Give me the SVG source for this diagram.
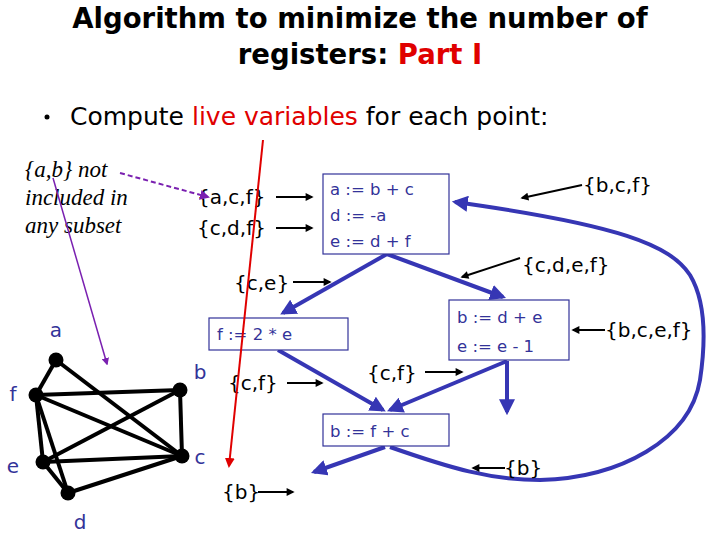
<svg xmlns="http://www.w3.org/2000/svg" width="720" height="540" viewBox="0 0 720 540">
<defs>
<style>
.title{font-family:"DejaVu Sans",sans-serif;font-size:27.5px;font-weight:bold;fill:#000}
.red{fill:#e00000}
.bul{font-family:"DejaVu Sans",sans-serif;font-size:25px;fill:#000}
.ital{font-family:"Liberation Serif",serif;font-style:italic;font-size:23px;fill:#000}
.set{font-family:"DejaVu Sans",sans-serif;font-size:20px;fill:#000}
.code{font-family:"DejaVu Sans",sans-serif;font-size:16.5px;fill:#333399}
.lbl{font-family:"DejaVu Sans",sans-serif;font-size:20px;fill:#333399}
.box{fill:#fff;stroke:#333399;stroke-width:1.2}
.blue{fill:none;stroke:#3636b4;stroke-width:4;marker-end:url(#bh)}
.blk{fill:none;stroke:#000;stroke-width:2;marker-end:url(#kh)}
.edge{stroke:#000;stroke-width:4}
.node{fill:#000}
</style>
<marker id="bh" viewBox="0 0 10 10" refX="8" refY="5" markerWidth="4" markerHeight="4" orient="auto" markerUnits="strokeWidth"><path d="M0,0L10,5L0,10z" fill="#3636b4"/></marker>
<marker id="kh" viewBox="0 0 10 10" refX="8" refY="5" markerWidth="5" markerHeight="4" orient="auto" markerUnits="strokeWidth"><path d="M0,0L10,5L0,10z" fill="#000"/></marker>
<marker id="rh" viewBox="0 0 10 10" refX="8" refY="5" markerWidth="5" markerHeight="5" orient="auto" markerUnits="strokeWidth"><path d="M0,0L10,5L0,10z" fill="#e00000"/></marker>
<marker id="ph" viewBox="0 0 10 10" refX="8" refY="5" markerWidth="5" markerHeight="5" orient="auto" markerUnits="strokeWidth"><path d="M0,0L10,5L0,10z" fill="#7a20b0"/></marker>
</defs>
<rect width="720" height="540" fill="#fff"/>
<g id="title">
<text class="title" x="360" y="28" text-anchor="middle">Algorithm to minimize the number of</text>
<text class="title" x="360" y="64" text-anchor="middle">registers: <tspan class="red">Part I</tspan></text>
</g>
<g id="bullet">
<circle cx="47" cy="117" r="2.5" fill="#000"/>
<text class="bul" x="70" y="125">Compute <tspan class="red">live variables</tspan> for each point:</text>
</g>
<g id="note">
<text class="ital" x="25" y="177">{a,b} not</text>
<text class="ital" x="25" y="205">included in</text>
<text class="ital" x="25" y="233">any subset</text>
</g>
<g id="graph">
<g id="edges">
<line class="edge" x1="56" y1="360" x2="36" y2="395"/>
<line class="edge" x1="56" y1="360" x2="182" y2="456"/>
<line class="edge" x1="36" y1="395" x2="180" y2="390"/>
<line class="edge" x1="36" y1="395" x2="182" y2="456"/>
<line class="edge" x1="36" y1="395" x2="43" y2="462"/>
<line class="edge" x1="36" y1="395" x2="68" y2="493"/>
<line class="edge" x1="180" y1="390" x2="43" y2="462"/>
<line class="edge" x1="180" y1="390" x2="182" y2="456"/>
<line class="edge" x1="43" y1="462" x2="182" y2="456"/>
<line class="edge" x1="43" y1="462" x2="68" y2="493"/>
<line class="edge" x1="68" y1="493" x2="182" y2="456"/>
</g>
<g id="n-a"><circle class="node" cx="56" cy="360" r="7.5"/><text class="lbl" x="56" y="337" text-anchor="middle">a</text></g>
<g id="n-f"><circle class="node" cx="36" cy="395" r="7.5"/><text class="lbl" x="13" y="401" text-anchor="middle">f</text></g>
<g id="n-b"><circle class="node" cx="180" cy="390" r="7.5"/><text class="lbl" x="200" y="379" text-anchor="middle">b</text></g>
<g id="n-c"><circle class="node" cx="182" cy="456" r="7.5"/><text class="lbl" x="200" y="464" text-anchor="middle">c</text></g>
<g id="n-e"><circle class="node" cx="43" cy="462" r="7.5"/><text class="lbl" x="13" y="473" text-anchor="middle">e</text></g>
<g id="n-d"><circle class="node" cx="68" cy="493" r="7.5"/><text class="lbl" x="80" y="529" text-anchor="middle">d</text></g>
</g>
<g id="flow">
<path class="blue" d="M387,254 L283,313"/>
<path class="blue" d="M387,254 L503,297"/>
<path class="blue" d="M278,350 L383,410"/>
<path class="blue" d="M507,361 L390,410"/>
<path class="blue" d="M507,361 L507,412"/>
<path class="blue" d="M385,447 L314,472"/>
<path class="blue" d="M390,447 C450,468 490,480 540,480 C620,478 690,440 700,380 C706,340 705,300 690,275 C670,245 620,225 455,202"/>
</g>
<g id="b1"><rect class="box" x="323" y="174" width="126" height="80"/>
<text class="code" x="330" y="195">a := b + c</text><text class="code" x="330" y="221">d := -a</text><text class="code" x="330" y="247">e := d + f</text></g>
<g id="b2"><rect class="box" x="209" y="318" width="139" height="32"/><text class="code" x="217" y="340">f := 2 * e</text></g>
<g id="b3"><rect class="box" x="449" y="300" width="120" height="60"/><text class="code" x="457" y="323">b := d + e</text><text class="code" x="457" y="352">e := e - 1</text></g>
<g id="b4"><rect class="box" x="323" y="414" width="126" height="32"/><text class="code" x="330" y="437">b := f + c</text></g>
<g id="sets">
<text class="set" x="197" y="204">{a,c,f}</text>
<text class="set" x="197" y="235">{c,d,f}</text>
<text class="set" x="234" y="290">{c,e}</text>
<text class="set" x="583" y="192">{b,c,f}</text>
<text class="set" x="522" y="272">{c,d,e,f}</text>
<text class="set" x="605" y="337">{b,c,e,f}</text>
<text class="set" x="367" y="380">{c,f}</text>
<text class="set" x="228" y="390">{c,f}</text>
<text class="set" x="222" y="499">{b}</text>
<text class="set" x="504" y="475">{b}</text>
</g>
<g id="connectors">
<path class="blk" d="M276,197 L312,197"/>
<path class="blk" d="M276,228 L312,228"/>
<path class="blk" d="M293,282 L330,282"/>
<path class="blk" d="M582,185 L522,198"/>
<path class="blk" d="M520,258 L462,277"/>
<path class="blk" d="M605,330 L573,330"/>
<path class="blk" d="M425,372 L462,372"/>
<path class="blk" d="M287,383 L322,383"/>
<path class="blk" d="M258,492 L293,492"/>
<path class="blk" d="M505,468 L473,468"/>
<path d="M263,140 L229,466" fill="none" stroke="#e00000" stroke-width="2" marker-end="url(#rh)"/>
<path d="M53,178 L107,364" fill="none" stroke="#7a20b0" stroke-width="1.5" marker-end="url(#ph)"/>
<path d="M120,173 L208,197" fill="none" stroke="#7a20b0" stroke-width="2" stroke-dasharray="5,3" marker-end="url(#ph)"/>
</g>
</svg>
